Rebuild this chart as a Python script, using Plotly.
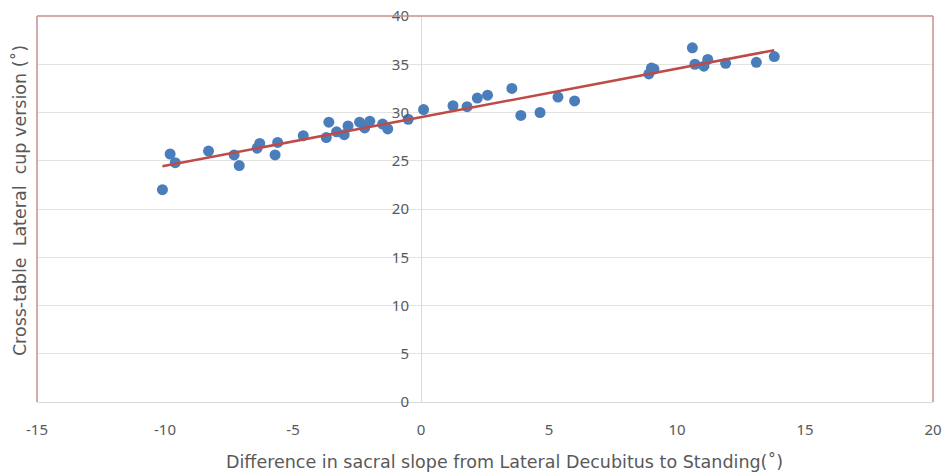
import numpy as np
import plotly.graph_objects as go

# Data
sacral_slope_diff = [-10.1, -9.8, -9.6, -8.3, -7.3, -7.1, -6.4, -6.3, -5.7, -5.6,
                     -4.6, -3.7, -3.6, -3.3, -3.0, -2.85, -2.4, -2.2, -2.0, -1.5,
                     -1.3, -0.5, 0.1, 1.25, 1.8, 2.2, 2.6, 3.55, 3.9, 4.65,
                     5.35, 6.0, 8.9, 9.0, 9.1, 10.6, 10.7, 11.05, 11.2, 11.9,
                     13.1, 13.8]
cup_version = [22.0, 25.7, 24.8, 26.0, 25.6, 24.5, 26.3, 26.8, 25.6, 26.9,
               27.6, 27.4, 29.0, 28.0, 27.7, 28.6, 29.0, 28.4, 29.1, 28.8,
               28.3, 29.3, 30.3, 30.7, 30.6, 31.5, 31.8, 32.5, 29.7, 30.0,
               31.6, 31.2, 34.0, 34.6, 34.5, 36.7, 35.0, 34.8, 35.5, 35.1,
               35.2, 35.8]
x_ticks = [-15, -10, -5, 0, 5, 10, 15, 20]
x_tick_labels = ["-15", "-10", "-5", "0", "5", "10", "15", "20"]
y_ticks = [0, 5, 10, 15, 20, 25, 30, 35, 40]
y_tick_labels = ["0", "5", "10", "15", "20", "25", "30", "35", "40"]

x = np.array(sacral_slope_diff)
y = np.array(cup_version)
slope, intercept = np.polyfit(x, y, 1)
x_line = np.array([x.min(), x.max()])
y_line = slope * x_line + intercept

fig = go.Figure()
fig.add_trace(go.Scatter(x=sacral_slope_diff, y=cup_version, mode="markers",
                         marker=dict(color="#4A7EBB", size=11), showlegend=False,
                         cliponaxis=False))
fig.add_trace(go.Scatter(x=x_line, y=y_line, mode="lines",
                         line=dict(color="#BE4B48", width=2.5), showlegend=False))

font_family = "Noto Sans, Open Sans, sans-serif"
title_font = dict(family="DejaVu Sans", size=17.5, color="#595959")
fig.update_layout(
    width=942, height=473,
    margin=dict(l=37, r=9, t=16, b=71, autoexpand=False),
    plot_bgcolor="white", paper_bgcolor="white",
    font=dict(family=font_family, color="#595959", size=15),
    xaxis=dict(range=[-15, 20], tickvals=x_ticks, ticktext=x_tick_labels, showgrid=False,
               zeroline=True, zerolinecolor="#D9D9D9", zerolinewidth=1,
               showline=True, linecolor="#D9D9D9", linewidth=1,
               ticks="", ticklabelstandoff=14, automargin=False,
               ticklabeloverflow="allow"),
    yaxis=dict(range=[0, 40], tickvals=y_ticks, ticktext=y_tick_labels, showgrid=True,
               gridcolor="#E3E3E3", gridwidth=1, zeroline=False,
               anchor="free", position=3/7, ticks="", ticklabelstandoff=12,
               automargin=False, ticklabeloverflow="allow"),
)
fig.add_annotation(text="Difference in sacral slope from Lateral Decubitus to Standing(˚)",
                   xref="paper", yref="paper", x=0.522, y=-0.155, showarrow=False,
                   font=title_font, xanchor="center", yanchor="middle")
fig.add_annotation(text="Cross-table  Lateral  cup version (˚)", xref="paper", yref="paper",
                   x=-0.019, y=0.523, textangle=-90, showarrow=False,
                   font=title_font, xanchor="center", yanchor="middle")
# plot-area frame (left, top, right) in reddish brown
frame_color = "#C4908E"
for x0, y0, x1, y1 in [(0, 0, 0, 1), (0, 1, 1, 1), (1, 1, 1, 0)]:
    fig.add_shape(type="line", xref="paper", yref="paper", x0=x0, y0=y0, x1=x1, y1=y1,
                  line=dict(color=frame_color, width=1.5))

fig.write_html("out.html",
               config={"displayModeBar": False},
               post_script="document.body.style.margin='0';document.body.style.overflow='hidden';")
